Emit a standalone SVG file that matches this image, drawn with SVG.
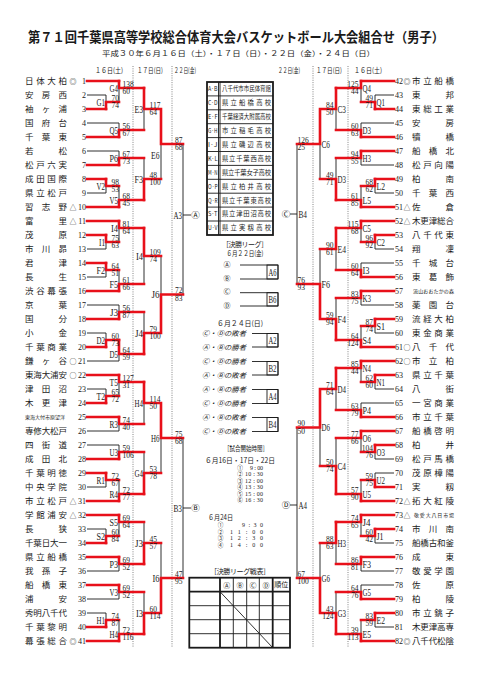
<svg xmlns="http://www.w3.org/2000/svg" width="481" height="680" viewBox="0 0 481 680">
<style>
.k{stroke:#1a1a1a;stroke-width:.9;fill:none}
.kb{stroke:#1a1a1a;stroke-width:1.8;fill:none}
.r{stroke:#e8101a;stroke-width:2.6;fill:none;stroke-linecap:square}
.d{stroke:#666;stroke-width:.8;stroke-dasharray:1 1.3;fill:none}
text{fill:#1a1a1a}
.nm{font-family:"Noto Sans CJK JP",sans-serif;font-size:8.5px}
.mk{font-family:"Noto Sans CJK JP",sans-serif;font-size:7px;text-anchor:middle}
.sm{font-family:"Noto Sans CJK JP",sans-serif;font-size:5px}
.no{font-family:"Liberation Serif",serif;font-size:8px}
.sc{font-family:"Liberation Serif",serif;font-size:7.5px}
.lb{font-family:"Liberation Serif",serif;font-size:11px}
.c{font-family:"Noto Sans CJK JP",sans-serif;font-size:7px}
.v{font-family:"Noto Sans CJK JP",sans-serif;font-size:6.3px}
.tm{font-family:"Liberation Serif",serif;font-size:6px}
.ci{font-family:"Noto Sans CJK JP",sans-serif;font-size:5.6px;text-anchor:middle}
.e{text-anchor:end}
.m{text-anchor:middle}
</style>
<rect width="481" height="680" fill="#fff"/>
<g id="title">
<text x="28" y="42" font-family="Noto Sans CJK JP,sans-serif" font-weight="bold" font-size="13.3" textLength="416" lengthAdjust="spacingAndGlyphs">第７１回千葉県高等学校総合体育大会バスケットボール大会組合せ（男子）</text>
<text x="102" y="56" class="c" font-size="8" textLength="273" lengthAdjust="spacingAndGlyphs">平成３０年６月１６日（土）・１７日（日）・２２日（金）・２４日（日）</text>
</g>
<g id="dates" class="c" font-size="6.5">
<text x="95" y="73" textLength="28" lengthAdjust="spacingAndGlyphs">１６日(土)</text>
<text x="137" y="73" textLength="26" lengthAdjust="spacingAndGlyphs">１７日(日)</text>
<text x="174" y="73" textLength="22" lengthAdjust="spacingAndGlyphs">２２日(金)</text>
<text x="278" y="73" textLength="22" lengthAdjust="spacingAndGlyphs">２２日(金)</text>
<text x="316" y="73" textLength="26" lengthAdjust="spacingAndGlyphs">１７日(日)</text>
<text x="354" y="73" textLength="28" lengthAdjust="spacingAndGlyphs">１６日(土)</text>
</g>
<g id="dividers">
<path class="d" d="M133 66V647M172 66V647M313 66V647M348 66V647"/>
</g>
<g id="teams-left">
<g id="t1"><text class="nm" x="25" y="84" textLength="42" lengthAdjust="spacing">日体大柏</text><text class="mk" x="73" y="83.5">◎</text><text class="no e" x="86" y="84">1</text></g>
<g id="t2"><text class="nm" x="25" y="98" textLength="42" lengthAdjust="spacing">安房西</text><text class="no e" x="86" y="98">2</text></g>
<g id="t3"><text class="nm" x="25" y="112" textLength="42" lengthAdjust="spacing">袖ヶ浦</text><text class="no e" x="86" y="112">3</text></g>
<g id="t4"><text class="nm" x="25" y="126" textLength="42" lengthAdjust="spacing">国府台</text><text class="no e" x="86" y="126">4</text></g>
<g id="t5"><text class="nm" x="25" y="140" textLength="42" lengthAdjust="spacing">千葉東</text><text class="no e" x="86" y="140">5</text></g>
<g id="t6"><text class="nm" x="25" y="154" textLength="42" lengthAdjust="spacing">若松</text><text class="no e" x="86" y="154">6</text></g>
<g id="t7"><text class="nm" x="25" y="168" textLength="42" lengthAdjust="spacing">松戸六実</text><text class="no e" x="86" y="168">7</text></g>
<g id="t8"><text class="nm" x="25" y="182" textLength="42" lengthAdjust="spacing">成田国際</text><text class="no e" x="86" y="182">8</text></g>
<g id="t9"><text class="nm" x="25" y="196" textLength="42" lengthAdjust="spacing">県立松戸</text><text class="no e" x="86" y="196">9</text></g>
<g id="t10"><text class="nm" x="25" y="210" textLength="42" lengthAdjust="spacing">習志野</text><text class="mk" x="73" y="209.5">△</text><text class="no e" x="86" y="210">10</text></g>
<g id="t11"><text class="nm" x="25" y="224" textLength="42" lengthAdjust="spacing">富里</text><text class="mk" x="73" y="223.5">△</text><text class="no e" x="86" y="224">11</text></g>
<g id="t12"><text class="nm" x="25" y="238" textLength="42" lengthAdjust="spacing">茂原</text><text class="no e" x="86" y="238">12</text></g>
<g id="t13"><text class="nm" x="25" y="252" textLength="42" lengthAdjust="spacing">市川昴</text><text class="no e" x="86" y="252">13</text></g>
<g id="t14"><text class="nm" x="25" y="266" textLength="42" lengthAdjust="spacing">君津</text><text class="no e" x="86" y="266">14</text></g>
<g id="t15"><text class="nm" x="25" y="280" textLength="42" lengthAdjust="spacing">長生</text><text class="no e" x="86" y="280">15</text></g>
<g id="t16"><text class="nm" x="25" y="294" textLength="42" lengthAdjust="spacing">渋谷幕張</text><text class="no e" x="86" y="294">16</text></g>
<g id="t17"><text class="nm" x="25" y="308" textLength="42" lengthAdjust="spacing">京葉</text><text class="no e" x="86" y="308">17</text></g>
<g id="t18"><text class="nm" x="25" y="322" textLength="42" lengthAdjust="spacing">国分</text><text class="no e" x="86" y="322">18</text></g>
<g id="t19"><text class="nm" x="25" y="336" textLength="42" lengthAdjust="spacing">小金</text><text class="no e" x="86" y="336">19</text></g>
<g id="t20"><text class="nm" x="25" y="350" textLength="42" lengthAdjust="spacing">千葉商業</text><text class="no e" x="86" y="350">20</text></g>
<g id="t21"><text class="nm" x="25" y="364" textLength="42" lengthAdjust="spacing">鎌ヶ谷</text><text class="mk" x="73" y="363.5">○</text><text class="no e" x="86" y="364">21</text></g>
<g id="t22"><text class="nm" x="25" y="378" textLength="42" lengthAdjust="spacing">東海大浦安</text><text class="mk" x="73" y="377.5">○</text><text class="no e" x="86" y="378">22</text></g>
<g id="t23"><text class="nm" x="25" y="392" textLength="42" lengthAdjust="spacing">津田沼</text><text class="no e" x="86" y="392">23</text></g>
<g id="t24"><text class="nm" x="25" y="406" textLength="42" lengthAdjust="spacing">木更津</text><text class="no e" x="86" y="406">24</text></g>
<g id="t25"><text class="sm" x="25" y="419" textLength="40" lengthAdjust="spacing">東海大付市原望洋</text><text class="no e" x="86" y="420">25</text></g>
<g id="t26"><text class="nm" x="25" y="434" textLength="42" lengthAdjust="spacing">専修大松戸</text><text class="no e" x="86" y="434">26</text></g>
<g id="t27"><text class="nm" x="25" y="448" textLength="42" lengthAdjust="spacing">四街道</text><text class="no e" x="86" y="448">27</text></g>
<g id="t28"><text class="nm" x="25" y="462" textLength="42" lengthAdjust="spacing">成田北</text><text class="no e" x="86" y="462">28</text></g>
<g id="t29"><text class="nm" x="25" y="476" textLength="42" lengthAdjust="spacing">千葉明徳</text><text class="no e" x="86" y="476">29</text></g>
<g id="t30"><text class="nm" x="25" y="490" textLength="42" lengthAdjust="spacing">中央学院</text><text class="no e" x="86" y="490">30</text></g>
<g id="t31"><text class="nm" x="25" y="504" textLength="42" lengthAdjust="spacing">市立松戸</text><text class="mk" x="73" y="503.5">△</text><text class="no e" x="86" y="504">31</text></g>
<g id="t32"><text class="nm" x="25" y="518" textLength="42" lengthAdjust="spacing">学館浦安</text><text class="mk" x="73" y="517.5">△</text><text class="no e" x="86" y="518">32</text></g>
<g id="t33"><text class="nm" x="25" y="532" textLength="42" lengthAdjust="spacing">長狭</text><text class="no e" x="86" y="532">33</text></g>
<g id="t34"><text class="nm" x="25" y="546" textLength="42" lengthAdjust="spacing">千葉日大一</text><text class="no e" x="86" y="546">34</text></g>
<g id="t35"><text class="nm" x="25" y="560" textLength="42" lengthAdjust="spacing">県立船橋</text><text class="no e" x="86" y="560">35</text></g>
<g id="t36"><text class="nm" x="25" y="574" textLength="42" lengthAdjust="spacing">我孫子</text><text class="no e" x="86" y="574">36</text></g>
<g id="t37"><text class="nm" x="25" y="588" textLength="42" lengthAdjust="spacing">船橋東</text><text class="no e" x="86" y="588">37</text></g>
<g id="t38"><text class="nm" x="25" y="602" textLength="42" lengthAdjust="spacing">浦安</text><text class="no e" x="86" y="602">38</text></g>
<g id="t39"><text class="nm" x="25" y="616" textLength="42" lengthAdjust="spacing">秀明八千代</text><text class="no e" x="86" y="616">39</text></g>
<g id="t40"><text class="nm" x="25" y="630" textLength="42" lengthAdjust="spacing">千葉黎明</text><text class="no e" x="86" y="630">40</text></g>
<g id="t41"><text class="nm" x="25" y="644" textLength="42" lengthAdjust="spacing">幕張総合</text><text class="mk" x="73" y="643.5">◎</text><text class="no e" x="86" y="644">41</text></g>
</g>
<g id="teams-right">
<g id="t42"><text class="no" x="395" y="84">42</text><text class="mk" x="407" y="83.5">◎</text><text class="nm" x="412" y="84" textLength="42" lengthAdjust="spacing">市立船橋</text></g>
<g id="t43"><text class="no" x="395" y="98">43</text><text class="nm" x="412" y="98" textLength="42" lengthAdjust="spacing">東邦</text></g>
<g id="t44"><text class="no" x="395" y="112">44</text><text class="nm" x="412" y="112" textLength="42" lengthAdjust="spacing">東総工業</text></g>
<g id="t45"><text class="no" x="395" y="126">45</text><text class="nm" x="412" y="126" textLength="42" lengthAdjust="spacing">安房</text></g>
<g id="t46"><text class="no" x="395" y="140">46</text><text class="nm" x="412" y="140" textLength="42" lengthAdjust="spacing">犢橋</text></g>
<g id="t47"><text class="no" x="395" y="154">47</text><text class="nm" x="412" y="154" textLength="42" lengthAdjust="spacing">船橋北</text></g>
<g id="t48"><text class="no" x="395" y="168">48</text><text class="nm" x="412" y="168" textLength="42" lengthAdjust="spacing">松戸向陽</text></g>
<g id="t49"><text class="no" x="395" y="182">49</text><text class="nm" x="412" y="182" textLength="42" lengthAdjust="spacing">柏南</text></g>
<g id="t50"><text class="no" x="395" y="196">50</text><text class="nm" x="412" y="196" textLength="42" lengthAdjust="spacing">千葉西</text></g>
<g id="t51"><text class="no" x="395" y="210">51</text><text class="mk" x="407" y="209.5">△</text><text class="nm" x="412" y="210" textLength="42" lengthAdjust="spacing">佐倉</text></g>
<g id="t52"><text class="no" x="395" y="224">52</text><text class="mk" x="407" y="223.5">△</text><text class="nm" x="412" y="224" textLength="42" lengthAdjust="spacing">木更津総合</text></g>
<g id="t53"><text class="no" x="395" y="238">53</text><text class="nm" x="412" y="238" textLength="42" lengthAdjust="spacing">八千代東</text></g>
<g id="t54"><text class="no" x="395" y="252">54</text><text class="nm" x="412" y="252" textLength="42" lengthAdjust="spacing">翔凜</text></g>
<g id="t55"><text class="no" x="395" y="266">55</text><text class="nm" x="412" y="266" textLength="42" lengthAdjust="spacing">千城台</text></g>
<g id="t56"><text class="no" x="395" y="280">56</text><text class="nm" x="412" y="280" textLength="42" lengthAdjust="spacing">東葛飾</text></g>
<g id="t57"><text class="no" x="395" y="294">57</text><text class="sm" x="413" y="293" textLength="41" lengthAdjust="spacing">流山おおたかの森</text></g>
<g id="t58"><text class="no" x="395" y="308">58</text><text class="nm" x="412" y="308" textLength="42" lengthAdjust="spacing">薬園台</text></g>
<g id="t59"><text class="no" x="395" y="322">59</text><text class="nm" x="412" y="322" textLength="42" lengthAdjust="spacing">流経大柏</text></g>
<g id="t60"><text class="no" x="395" y="336">60</text><text class="nm" x="412" y="336" textLength="42" lengthAdjust="spacing">東金商業</text></g>
<g id="t61"><text class="no" x="395" y="350">61</text><text class="mk" x="407" y="349.5">○</text><text class="nm" x="412" y="350" textLength="42" lengthAdjust="spacing">八千代</text></g>
<g id="t62"><text class="no" x="395" y="364">62</text><text class="mk" x="407" y="363.5">○</text><text class="nm" x="412" y="364" textLength="42" lengthAdjust="spacing">市立柏</text></g>
<g id="t63"><text class="no" x="395" y="378">63</text><text class="nm" x="412" y="378" textLength="42" lengthAdjust="spacing">県立千葉</text></g>
<g id="t64"><text class="no" x="395" y="392">64</text><text class="nm" x="412" y="392" textLength="42" lengthAdjust="spacing">八街</text></g>
<g id="t65"><text class="no" x="395" y="406">65</text><text class="nm" x="412" y="406" textLength="42" lengthAdjust="spacing">一宮商業</text></g>
<g id="t66"><text class="no" x="395" y="420">66</text><text class="nm" x="412" y="420" textLength="42" lengthAdjust="spacing">市立千葉</text></g>
<g id="t67"><text class="no" x="395" y="434">67</text><text class="nm" x="412" y="434" textLength="42" lengthAdjust="spacing">船橋啓明</text></g>
<g id="t68"><text class="no" x="395" y="448">68</text><text class="nm" x="412" y="448" textLength="42" lengthAdjust="spacing">柏井</text></g>
<g id="t69"><text class="no" x="395" y="462">69</text><text class="nm" x="412" y="462" textLength="42" lengthAdjust="spacing">松戸馬橋</text></g>
<g id="t70"><text class="no" x="395" y="476">70</text><text class="nm" x="412" y="476" textLength="42" lengthAdjust="spacing">茂原樟陽</text></g>
<g id="t71"><text class="no" x="395" y="490">71</text><text class="nm" x="412" y="490" textLength="42" lengthAdjust="spacing">実籾</text></g>
<g id="t72"><text class="no" x="395" y="504">72</text><text class="mk" x="407" y="503.5">△</text><text class="nm" x="412" y="504" textLength="42" lengthAdjust="spacing">拓大紅陵</text></g>
<g id="t73"><text class="no" x="395" y="518">73</text><text class="mk" x="407" y="517.5">△</text><text class="sm" x="414" y="517" textLength="40" lengthAdjust="spacing">敬愛大八日市場</text></g>
<g id="t74"><text class="no" x="395" y="532">74</text><text class="nm" x="412" y="532" textLength="42" lengthAdjust="spacing">市川南</text></g>
<g id="t75"><text class="no" x="395" y="546">75</text><text class="nm" x="412" y="546" textLength="42" lengthAdjust="spacing">船橋古和釜</text></g>
<g id="t76"><text class="no" x="395" y="560">76</text><text class="nm" x="412" y="560" textLength="42" lengthAdjust="spacing">成東</text></g>
<g id="t77"><text class="no" x="395" y="574">77</text><text class="nm" x="412" y="574" textLength="42" lengthAdjust="spacing">敬愛学園</text></g>
<g id="t78"><text class="no" x="395" y="588">78</text><text class="nm" x="412" y="588" textLength="42" lengthAdjust="spacing">佐原</text></g>
<g id="t79"><text class="no" x="395" y="602">79</text><text class="nm" x="412" y="602" textLength="42" lengthAdjust="spacing">柏陵</text></g>
<g id="t80"><text class="no" x="395" y="616">80</text><text class="nm" x="412" y="616" textLength="42" lengthAdjust="spacing">市立銚子</text></g>
<g id="t81"><text class="no" x="395" y="630">81</text><text class="nm" x="412" y="630" textLength="42" lengthAdjust="spacing">木更津高専</text></g>
<g id="t82"><text class="no" x="395" y="644">82</text><text class="mk" x="407" y="643.5">◎</text><text class="nm" x="412" y="644" textLength="42" lengthAdjust="spacing">八千代松陰</text></g>
</g>
<g id="connectors">
<path class="k" d="M87 95H106M87 123H119M87 151H119M87 193H106M87 249H106M87 277H106M87 305H119M87 333H106M87 361H119M87 389H106M87 431H119M87 445H119M87 487H106M87 529H106M87 571H119M87 599H119M87 613H106"/>
<path class="k" d="M106 95V109M106 179V193M106 235V249M106 263V277M106 333V347M106 389V403M106 473V487M106 529V543M106 613V627M119 81V102M119 123V137M119 151V165M119 186V207M119 221V242M119 270V291M119 305V319M119 340V361M119 375V396M119 417V431M119 445V459M119 480V501M119 515V536M119 557V571M119 585V599M119 620V641M144 88V130M144 158V200M144 228V284M144 312V354M144 382V424M144 452V494M144 522V564M144 592V634M161 109V179M161 256V333M161 403V473M161 543V613M183 144V294.5M183 438V578"/>
<path class="k" d="M394 95H375M394 123H361M394 165H361M394 193H375M394 249H375M394 263H361M394 305H361M394 333H375M394 389H375M394 403H361M394 459H375M394 473H375M394 543H375M394 571H361M394 585H361M394 627H375"/>
<path class="k" d="M375 95V109M375 179V193M375 235V249M375 319V333M375 375V389M375 445V459M375 473V487M375 529V543M375 613V627M361 81V102M361 123V137M361 151V165M361 186V207M361 221V242M361 263V277M361 291V305M361 326V347M361 361V382M361 403V417M361 431V452M361 480V501M361 515V536M361 557V571M361 585V599M361 620V641M336 88V130M336 158V200M336 228V270M336 298V340M336 368V410M336 438V494M336 522V564M336 592V634M320 109V179M320 249V319M320 389V466M320 543V613M297 144V284M297 427.5V578"/>
<path class="k" d="M183 215H191M183 508H191M290 214H297M290 505H297"/>
<path class="r" d="M87 81H119M87 109H106M87 137H119M87 165H119M87 179H106M87 207H119M87 221H119M87 235H106M87 263H106M87 291H119M87 319H119M87 347H106M87 375H119M87 403H106M87 417H119M87 459H119M87 473H106M87 501H119M87 515H119M87 543H106M87 557H119M87 585H119M87 627H106M87 641H119"/>
<path class="r" d="M106 109V102H119M106 179V186H119M106 235V242H119M106 263V270H119M106 347V340H119M106 403V396H119M106 473V480H119M106 543V536H119M106 627V620H119"/>
<path class="r" d="M119 81V88H144M119 137V130H144M119 165V158H144M119 207V200H144M119 221V228H144M119 291V284H144M119 319V312H144M119 340V354H144M119 375V382H144M119 417V424H144M119 459V452H144M119 501V494H144M119 515V522H144M119 557V564H144M119 585V592H144M119 641V634H144"/>
<path class="r" d="M144 88V109H161M144 200V179H161M144 228V256H161M144 354V333H161M144 382V403H161M144 494V473H161M144 564V543H161M144 634V613H161M161 109V144H183M161 333V294.5H183M161 403V438H183M161 613V578H183"/>
<path class="r" d="M394 81H361M394 109H375M394 137H361M394 151H361M394 179H375M394 207H361M394 221H361M394 235H375M394 277H361M394 291H361M394 319H375M394 347H361M394 361H361M394 375H375M394 417H361M394 431H361M394 445H375M394 487H375M394 501H361M394 515H361M394 529H375M394 557H361M394 599H361M394 613H375M394 641H361"/>
<path class="r" d="M375 109V102H361M375 179V186H361M375 235V242H361M375 319V326H361M375 375V382H361M375 445V452H361M375 487V480H361M375 529V536H361M375 613V620H361"/>
<path class="r" d="M361 81V88H336M361 137V130H336M361 151V158H336M361 207V200H336M361 221V228H336M361 277V270H336M361 291V298H336M361 347V340H336M361 361V368H336M361 417V410H336M361 431V438H336M361 501V494H336M361 515V522H336M361 557V564H336M361 599V592H336M361 641V634H336"/>
<path class="r" d="M336 88V109H320M336 200V179H320M336 228V249H320M336 340V319H320M336 368V389H320M336 494V466H320M336 522V543H320M336 634V613H320M320 109V144H297M320 319V284H297M320 389V427.5H297M320 613V578H297"/>
</g>
<g id="matches-left">
<g id="mG1"><text class="lb e" x="105" y="105.8" textLength="8.5" lengthAdjust="spacingAndGlyphs">G1</text><text class="sc" x="111.5" y="100.6">70</text><text class="sc" x="111.5" y="108.4">74</text></g>
<g id="mV2"><text class="lb e" x="105" y="189.8" textLength="8.5" lengthAdjust="spacingAndGlyphs">V2</text><text class="sc" x="111.5" y="184.6">98</text><text class="sc" x="111.5" y="192.4">53</text></g>
<g id="mI1"><text class="lb e" x="105" y="245.8" textLength="6" lengthAdjust="spacingAndGlyphs">I1</text><text class="sc" x="111.5" y="240.6">75</text><text class="sc" x="111.5" y="248.4">63</text></g>
<g id="mF2"><text class="lb e" x="105" y="273.8" textLength="8.5" lengthAdjust="spacingAndGlyphs">F2</text><text class="sc" x="111.5" y="268.6">64</text><text class="sc" x="111.5" y="276.4">51</text></g>
<g id="mD2"><text class="lb e" x="105" y="343.8" textLength="8.5" lengthAdjust="spacingAndGlyphs">D2</text><text class="sc" x="111.5" y="338.6">60</text><text class="sc" x="111.5" y="346.4">73</text></g>
<g id="mT2"><text class="lb e" x="105" y="399.8" textLength="8.5" lengthAdjust="spacingAndGlyphs">T2</text><text class="sc" x="111.5" y="394.6">65</text><text class="sc" x="111.5" y="402.4">72</text></g>
<g id="mR1"><text class="lb e" x="105" y="483.8" textLength="8.5" lengthAdjust="spacingAndGlyphs">R1</text><text class="sc" x="111.5" y="478.6">72</text><text class="sc" x="111.5" y="486.4">67</text></g>
<g id="mS2"><text class="lb e" x="105" y="539.8" textLength="8.5" lengthAdjust="spacingAndGlyphs">S2</text><text class="sc" x="111.5" y="534.6">60</text><text class="sc" x="111.5" y="542.4">84</text></g>
<g id="mH1"><text class="lb e" x="105" y="623.8" textLength="8.5" lengthAdjust="spacingAndGlyphs">H1</text><text class="sc" x="111.5" y="618.6">74</text><text class="sc" x="111.5" y="626.4">87</text></g>
<g id="mG4a"><text class="lb e" x="118" y="91.8" textLength="8.5" lengthAdjust="spacingAndGlyphs">G4</text><text class="sc" x="122.5" y="86.6">138</text><text class="sc" x="122.5" y="94.4">60</text></g>
<g id="mQ5"><text class="lb e" x="118" y="133.8" textLength="8.5" lengthAdjust="spacingAndGlyphs">Q5</text><text class="sc" x="122.5" y="128.6">56</text><text class="sc" x="122.5" y="136.4">67</text></g>
<g id="mP6"><text class="lb e" x="118" y="161.8" textLength="8.5" lengthAdjust="spacingAndGlyphs">P6</text><text class="sc" x="122.5" y="156.6">67</text><text class="sc" x="122.5" y="164.4">73</text></g>
<g id="mV5"><text class="lb e" x="118" y="203.8" textLength="8.5" lengthAdjust="spacingAndGlyphs">V5</text><text class="sc" x="122.5" y="198.6">68</text><text class="sc" x="122.5" y="206.4">45</text></g>
<g id="mI4a"><text class="lb e" x="118" y="231.8" textLength="7" lengthAdjust="spacingAndGlyphs">I4</text><text class="sc" x="122.5" y="226.6">81</text><text class="sc" x="122.5" y="234.4">64</text></g>
<g id="mF5"><text class="lb e" x="118" y="287.8" textLength="8.5" lengthAdjust="spacingAndGlyphs">F5</text><text class="sc" x="122.5" y="282.6">61</text><text class="sc" x="122.5" y="290.4">66</text></g>
<g id="mJ3a"><text class="lb e" x="118" y="315.8" textLength="8" lengthAdjust="spacingAndGlyphs">J3</text><text class="sc" x="122.5" y="310.6">56</text><text class="sc" x="122.5" y="318.4">87</text></g>
<g id="mD5"><text class="lb e" x="118" y="357.8" textLength="8.5" lengthAdjust="spacingAndGlyphs">D5</text><text class="sc" x="122.5" y="352.6">64</text><text class="sc" x="122.5" y="360.4">59</text></g>
<g id="mT5"><text class="lb e" x="118" y="385.8" textLength="8.5" lengthAdjust="spacingAndGlyphs">T5</text><text class="sc" x="122.5" y="380.6">127</text><text class="sc" x="122.5" y="388.4">31</text></g>
<g id="mR3"><text class="lb e" x="118" y="427.8" textLength="8.5" lengthAdjust="spacingAndGlyphs">R3</text><text class="sc" x="122.5" y="422.6">74</text><text class="sc" x="122.5" y="430.4">40</text></g>
<g id="mU3"><text class="lb e" x="118" y="455.8" textLength="8.5" lengthAdjust="spacingAndGlyphs">U3</text><text class="sc" x="122.5" y="450.6">59</text><text class="sc" x="122.5" y="458.4">106</text></g>
<g id="mR4"><text class="lb e" x="118" y="497.8" textLength="8.5" lengthAdjust="spacingAndGlyphs">R4</text><text class="sc" x="122.5" y="492.6">72</text><text class="sc" x="122.5" y="500.4">77</text></g>
<g id="mS5"><text class="lb e" x="118" y="525.8" textLength="8.5" lengthAdjust="spacingAndGlyphs">S5</text><text class="sc" x="122.5" y="520.6">69</text><text class="sc" x="122.5" y="528.4">64</text></g>
<g id="mP3"><text class="lb e" x="118" y="567.8" textLength="8.5" lengthAdjust="spacingAndGlyphs">P3</text><text class="sc" x="122.5" y="562.6">69</text><text class="sc" x="122.5" y="570.4">52</text></g>
<g id="mV3"><text class="lb e" x="118" y="595.8" textLength="8.5" lengthAdjust="spacingAndGlyphs">V3</text><text class="sc" x="122.5" y="590.6">69</text><text class="sc" x="122.5" y="598.4">52</text></g>
<g id="mH4a"><text class="lb e" x="118" y="637.8" textLength="8.5" lengthAdjust="spacingAndGlyphs">H4</text><text class="sc" x="122.5" y="632.6">72</text><text class="sc" x="122.5" y="640.4">116</text></g>
<g id="mE3"><text class="lb e" x="143" y="112.8" textLength="8.5" lengthAdjust="spacingAndGlyphs">E3</text><text class="sc" x="149.5" y="107.6">117</text><text class="sc" x="149.5" y="115.4">64</text></g>
<g id="mF3"><text class="lb e" x="143" y="182.8" textLength="8.5" lengthAdjust="spacingAndGlyphs">F3</text><text class="sc" x="149.5" y="177.6">48</text><text class="sc" x="149.5" y="185.4">100</text></g>
<g id="mI4b"><text class="lb e" x="143" y="259.8" textLength="7" lengthAdjust="spacingAndGlyphs">I4</text><text class="sc" x="149.5" y="254.6">109</text><text class="sc" x="149.5" y="262.4">74</text></g>
<g id="mJ4"><text class="lb e" x="143" y="336.8" textLength="8" lengthAdjust="spacingAndGlyphs">J4</text><text class="sc" x="149.5" y="331.6">79</text><text class="sc" x="149.5" y="339.4">100</text></g>
<g id="mH4b"><text class="lb e" x="143" y="406.8" textLength="8.5" lengthAdjust="spacingAndGlyphs">H4</text><text class="sc" x="149.5" y="401.6">114</text><text class="sc" x="149.5" y="409.4">50</text></g>
<g id="mG4b"><text class="lb e" x="143" y="476.8" textLength="8.5" lengthAdjust="spacingAndGlyphs">G4</text><text class="sc" x="149.5" y="471.6">53</text><text class="sc" x="149.5" y="479.4">78</text></g>
<g id="mJ3b"><text class="lb e" x="143" y="546.8" textLength="8" lengthAdjust="spacingAndGlyphs">J3</text><text class="sc" x="149.5" y="541.6">45</text><text class="sc" x="149.5" y="549.4">57</text></g>
<g id="mI3"><text class="lb e" x="143" y="616.8" textLength="7" lengthAdjust="spacingAndGlyphs">I3</text><text class="sc" x="149.5" y="611.6">60</text><text class="sc" x="149.5" y="619.4">114</text></g>
<g id="mE6"><text class="lb e" x="159.5" y="158.8" textLength="8.5" lengthAdjust="spacingAndGlyphs">E6</text><text class="sc e" x="182.5" y="142.6">87</text><text class="sc e" x="182.5" y="150.4">68</text></g>
<g id="mJ6"><text class="lb e" x="159.5" y="298.3" textLength="8" lengthAdjust="spacingAndGlyphs">J6</text><text class="sc e" x="182.5" y="293.1">72</text><text class="sc e" x="182.5" y="300.9">83</text></g>
<g id="mH6"><text class="lb e" x="159.5" y="441.8" textLength="8.5" lengthAdjust="spacingAndGlyphs">H6</text><text class="sc e" x="182.5" y="436.6">75</text><text class="sc e" x="182.5" y="444.4">68</text></g>
<g id="mI6"><text class="lb e" x="159.5" y="581.8" textLength="7" lengthAdjust="spacingAndGlyphs">I6</text><text class="sc e" x="182.5" y="576.6">47</text><text class="sc e" x="182.5" y="584.4">95</text></g>
<g id="mA3"><text class="lb e" x="182" y="218.8" textLength="8.5" lengthAdjust="spacingAndGlyphs">A3</text><text class="nm m" x="195.5" y="218.2">Ⓐ</text></g>
<g id="mB3"><text class="lb e" x="182" y="511.8" textLength="8.5" lengthAdjust="spacingAndGlyphs">B3</text><text class="nm m" x="195.5" y="511.2">Ⓑ</text></g>
</g>
<g id="matches-right">
<g id="mQ1"><text class="lb" x="376.5" y="105.8" textLength="8.5" lengthAdjust="spacingAndGlyphs">Q1</text><text class="sc e" x="373" y="100.6">49</text><text class="sc e" x="373" y="108.4">71</text></g>
<g id="mL2"><text class="lb" x="376.5" y="189.8" textLength="8.5" lengthAdjust="spacingAndGlyphs">L2</text><text class="sc e" x="373" y="184.6">68</text><text class="sc e" x="373" y="192.4">62</text></g>
<g id="mC2"><text class="lb" x="376.5" y="245.8" textLength="8.5" lengthAdjust="spacingAndGlyphs">C2</text><text class="sc e" x="373" y="240.6">96</text><text class="sc e" x="373" y="248.4">92</text></g>
<g id="mS1"><text class="lb" x="376.5" y="329.8" textLength="8.5" lengthAdjust="spacingAndGlyphs">S1</text><text class="sc e" x="373" y="324.6">87</text><text class="sc e" x="373" y="332.4">74</text></g>
<g id="mN1"><text class="lb" x="376.5" y="385.8" textLength="8.5" lengthAdjust="spacingAndGlyphs">N1</text><text class="sc e" x="373" y="380.6">62</text><text class="sc e" x="373" y="388.4">60</text></g>
<g id="mO3"><text class="lb" x="376.5" y="455.8" textLength="8.5" lengthAdjust="spacingAndGlyphs">O3</text><text class="sc e" x="373" y="450.6">104</text><text class="sc e" x="373" y="458.4">76</text></g>
<g id="mU2"><text class="lb" x="376.5" y="483.8" textLength="8.5" lengthAdjust="spacingAndGlyphs">U2</text><text class="sc e" x="373" y="478.6">59</text><text class="sc e" x="373" y="486.4">75</text></g>
<g id="mJ1"><text class="lb" x="376.5" y="539.8" textLength="7" lengthAdjust="spacingAndGlyphs">J1</text><text class="sc e" x="373" y="534.6">60</text><text class="sc e" x="373" y="542.4">42</text></g>
<g id="mE2"><text class="lb" x="376.5" y="623.8" textLength="8.5" lengthAdjust="spacingAndGlyphs">E2</text><text class="sc e" x="373" y="618.6">83</text><text class="sc e" x="373" y="626.4">59</text></g>
<g id="mQ4"><text class="lb" x="362.5" y="91.8" textLength="8.5" lengthAdjust="spacingAndGlyphs">Q4</text><text class="sc e" x="358.5" y="86.6">125</text><text class="sc e" x="358.5" y="94.4">44</text></g>
<g id="mD3a"><text class="lb" x="362.5" y="133.8" textLength="8.5" lengthAdjust="spacingAndGlyphs">D3</text><text class="sc e" x="358.5" y="128.6">60</text><text class="sc e" x="358.5" y="136.4">63</text></g>
<g id="mH3a"><text class="lb" x="362.5" y="161.8" textLength="8.5" lengthAdjust="spacingAndGlyphs">H3</text><text class="sc e" x="358.5" y="156.6">94</text><text class="sc e" x="358.5" y="164.4">55</text></g>
<g id="mL5"><text class="lb" x="362.5" y="203.8" textLength="8.5" lengthAdjust="spacingAndGlyphs">L5</text><text class="sc e" x="358.5" y="198.6">61</text><text class="sc e" x="358.5" y="206.4">85</text></g>
<g id="mC5"><text class="lb" x="362.5" y="231.8" textLength="8.5" lengthAdjust="spacingAndGlyphs">C5</text><text class="sc e" x="358.5" y="226.6">115</text><text class="sc e" x="358.5" y="234.4">68</text></g>
<g id="mI3r"><text class="lb" x="362.5" y="273.8" textLength="7" lengthAdjust="spacingAndGlyphs">I3</text><text class="sc e" x="358.5" y="268.6">60</text><text class="sc e" x="358.5" y="276.4">64</text></g>
<g id="mK3"><text class="lb" x="362.5" y="301.8" textLength="8.5" lengthAdjust="spacingAndGlyphs">K3</text><text class="sc e" x="358.5" y="296.6">83</text><text class="sc e" x="358.5" y="304.4">75</text></g>
<g id="mS4"><text class="lb" x="362.5" y="343.8" textLength="8.5" lengthAdjust="spacingAndGlyphs">S4</text><text class="sc e" x="358.5" y="338.6">64</text><text class="sc e" x="358.5" y="346.4">124</text></g>
<g id="mN4"><text class="lb" x="362.5" y="371.8" textLength="8.5" lengthAdjust="spacingAndGlyphs">N4</text><text class="sc e" x="358.5" y="366.6">85</text><text class="sc e" x="358.5" y="374.4">44</text></g>
<g id="mP4"><text class="lb" x="362.5" y="413.8" textLength="8.5" lengthAdjust="spacingAndGlyphs">P4</text><text class="sc e" x="358.5" y="408.6">63</text><text class="sc e" x="358.5" y="416.4">79</text></g>
<g id="mO6"><text class="lb" x="362.5" y="441.8" textLength="8.5" lengthAdjust="spacingAndGlyphs">O6</text><text class="sc e" x="358.5" y="436.6">77</text><text class="sc e" x="358.5" y="444.4">66</text></g>
<g id="mU5"><text class="lb" x="362.5" y="497.8" textLength="8.5" lengthAdjust="spacingAndGlyphs">U5</text><text class="sc e" x="358.5" y="492.6">57</text><text class="sc e" x="358.5" y="500.4">90</text></g>
<g id="mJ4r"><text class="lb" x="362.5" y="525.8" textLength="8" lengthAdjust="spacingAndGlyphs">J4</text><text class="sc e" x="358.5" y="520.6">74</text><text class="sc e" x="358.5" y="528.4">65</text></g>
<g id="mF3r"><text class="lb" x="362.5" y="567.8" textLength="8.5" lengthAdjust="spacingAndGlyphs">F3</text><text class="sc e" x="358.5" y="562.6">86</text><text class="sc e" x="358.5" y="570.4">81</text></g>
<g id="mG5"><text class="lb" x="362.5" y="595.8" textLength="8.5" lengthAdjust="spacingAndGlyphs">G5</text><text class="sc e" x="358.5" y="590.6">64</text><text class="sc e" x="358.5" y="598.4">76</text></g>
<g id="mE5"><text class="lb" x="362.5" y="637.8" textLength="8.5" lengthAdjust="spacingAndGlyphs">E5</text><text class="sc e" x="358.5" y="632.6">39</text><text class="sc e" x="358.5" y="640.4">113</text></g>
<g id="mC3"><text class="lb" x="337.5" y="112.8" textLength="8.5" lengthAdjust="spacingAndGlyphs">C3</text><text class="sc e" x="333.5" y="107.6">84</text><text class="sc e" x="333.5" y="115.4">50</text></g>
<g id="mD3b"><text class="lb" x="337.5" y="182.8" textLength="8.5" lengthAdjust="spacingAndGlyphs">D3</text><text class="sc e" x="333.5" y="177.6">49</text><text class="sc e" x="333.5" y="185.4">71</text></g>
<g id="mE4"><text class="lb" x="337.5" y="252.8" textLength="8.5" lengthAdjust="spacingAndGlyphs">E4</text><text class="sc e" x="333.5" y="247.6">90</text><text class="sc e" x="333.5" y="255.4">61</text></g>
<g id="mF4"><text class="lb" x="337.5" y="322.8" textLength="8.5" lengthAdjust="spacingAndGlyphs">F4</text><text class="sc e" x="333.5" y="317.6">59</text><text class="sc e" x="333.5" y="325.4">94</text></g>
<g id="mD4"><text class="lb" x="337.5" y="392.8" textLength="8.5" lengthAdjust="spacingAndGlyphs">D4</text><text class="sc e" x="333.5" y="387.6">71</text><text class="sc e" x="333.5" y="395.4">64</text></g>
<g id="mC4"><text class="lb" x="337.5" y="469.8" textLength="8.5" lengthAdjust="spacingAndGlyphs">C4</text><text class="sc e" x="333.5" y="464.6">50</text><text class="sc e" x="333.5" y="472.4">74</text></g>
<g id="mH3b"><text class="lb" x="337.5" y="546.8" textLength="8.5" lengthAdjust="spacingAndGlyphs">H3</text><text class="sc e" x="333.5" y="541.6">88</text><text class="sc e" x="333.5" y="549.4">63</text></g>
<g id="mG3"><text class="lb" x="337.5" y="616.8" textLength="8.5" lengthAdjust="spacingAndGlyphs">G3</text><text class="sc e" x="333.5" y="611.6">43</text><text class="sc e" x="333.5" y="619.4">124</text></g>
<g id="mC6"><text class="lb" x="321.5" y="147.8" textLength="8.5" lengthAdjust="spacingAndGlyphs">C6</text><text class="sc" x="297.5" y="142.6">126</text><text class="sc" x="297.5" y="150.4">25</text></g>
<g id="mF6"><text class="lb" x="321.5" y="287.8" textLength="8.5" lengthAdjust="spacingAndGlyphs">F6</text><text class="sc" x="297.5" y="282.6">76</text><text class="sc" x="297.5" y="290.4">93</text></g>
<g id="mD6"><text class="lb" x="321.5" y="431.3" textLength="8.5" lengthAdjust="spacingAndGlyphs">D6</text><text class="sc" x="297.5" y="426.1">90</text><text class="sc" x="297.5" y="433.9">50</text></g>
<g id="mG6"><text class="lb" x="321.5" y="581.8" textLength="8.5" lengthAdjust="spacingAndGlyphs">G6</text><text class="sc" x="297.5" y="576.6">67</text><text class="sc" x="297.5" y="584.4">100</text></g>
<g id="mB4"><text class="lb" x="298.5" y="217.8" textLength="8.5" lengthAdjust="spacingAndGlyphs">B4</text><text class="nm m" x="286" y="217.2">Ⓒ</text></g>
<g id="mA4"><text class="lb" x="298.5" y="508.8" textLength="8.5" lengthAdjust="spacingAndGlyphs">A4</text><text class="nm m" x="286" y="508.2">Ⓓ</text></g>
</g>
<g id="venues">
<rect class="kb" x="207" y="82" width="66" height="153" stroke-width="1.2"/>
<path class="k" d="M218.5 82V235M220 82V235M207 95.9H273M207 109.8H273M207 123.7H273M207 137.6H273M207 151.5H273M207 165.4H273M207 179.3H273M207 193.2H273M207 207.1H273M207 221H273"/>
<g class="v">
<text x="208" y="91.3" textLength="9.5" lengthAdjust="spacingAndGlyphs">A·B</text><text x="222" y="91.3" textLength="49" lengthAdjust="spacingAndGlyphs">八千代市市民体育館</text>
<text x="208" y="105.2" textLength="9.5" lengthAdjust="spacingAndGlyphs">C·D</text><text x="222" y="105.2" textLength="49" lengthAdjust="spacing">県立船橋高校</text>
<text x="208" y="119.1" textLength="9.5" lengthAdjust="spacingAndGlyphs">E·F</text><text x="222" y="119.1" textLength="49" lengthAdjust="spacingAndGlyphs">千葉経済大附属高校</text>
<text x="208" y="133" textLength="9.5" lengthAdjust="spacingAndGlyphs">G·H</text><text x="222" y="133" textLength="49" lengthAdjust="spacing">市立稲毛高校</text>
<text x="208" y="146.9" textLength="9.5" lengthAdjust="spacingAndGlyphs">I·J</text><text x="222" y="146.9" textLength="49" lengthAdjust="spacing">県立磯辺高校</text>
<text x="208" y="160.8" textLength="9.5" lengthAdjust="spacingAndGlyphs">K·L</text><text x="222" y="160.8" textLength="49" lengthAdjust="spacing">県立千葉西高校</text>
<text x="208" y="174.7" textLength="9.5" lengthAdjust="spacingAndGlyphs">M·N</text><text x="222" y="174.7" textLength="49" lengthAdjust="spacing">県立千葉女子高校</text>
<text x="208" y="188.6" textLength="9.5" lengthAdjust="spacingAndGlyphs">O·P</text><text x="222" y="188.6" textLength="49" lengthAdjust="spacing">県立柏井高校</text>
<text x="208" y="202.5" textLength="9.5" lengthAdjust="spacingAndGlyphs">Q·R</text><text x="222" y="202.5" textLength="49" lengthAdjust="spacing">県立千葉東高校</text>
<text x="208" y="216.4" textLength="9.5" lengthAdjust="spacingAndGlyphs">S·T</text><text x="222" y="216.4" textLength="49" lengthAdjust="spacing">県立津田沼高校</text>
<text x="208" y="230.3" textLength="9.5" lengthAdjust="spacingAndGlyphs">U·V</text><text x="222" y="230.3" textLength="49" lengthAdjust="spacing">県立実籾高校</text>
</g>
</g>
<g id="final-league">
<text class="c m" x="245" y="247" font-size="6.5" textLength="46" lengthAdjust="spacing">［決勝リーグ］</text>
<text class="c m" x="245" y="255.5" font-size="6.5" textLength="37" lengthAdjust="spacingAndGlyphs">６月２２日(金)</text>
<text class="c m" x="227" y="266.5">Ⓐ</text><text class="c m" x="227" y="280.5">Ⓑ</text>
<text class="c m" x="227" y="293.5">Ⓒ</text><text class="c m" x="227" y="307.5">Ⓓ</text>
<path class="k" d="M240 265H278V279H240M240 292.7H278V306H240"/>
<rect class="k" x="267" y="265" width="11" height="14"/><rect class="k" x="267" y="292.7" width="11" height="13.3"/>
<text class="lb m" x="272.5" y="275.8" textLength="8" lengthAdjust="spacingAndGlyphs">A6</text>
<text class="lb m" x="272.5" y="303.2" textLength="8" lengthAdjust="spacingAndGlyphs">B6</text>
<text class="c m" x="240" y="326" textLength="46" lengthAdjust="spacingAndGlyphs">６月２４日(日)</text>
<g class="c" font-style="italic">
<text class="e" x="246" y="336" textLength="44" lengthAdjust="spacingAndGlyphs">Ⓒ・Ⓓの敗者</text>
<text class="e" x="246" y="349.5" textLength="44" lengthAdjust="spacingAndGlyphs">Ⓐ・Ⓑの勝者</text>
<text class="e" x="246" y="364" textLength="44" lengthAdjust="spacingAndGlyphs">Ⓒ・Ⓓの勝者</text>
<text class="e" x="246" y="377.5" textLength="44" lengthAdjust="spacingAndGlyphs">Ⓐ・Ⓑの敗者</text>
<text class="e" x="246" y="392" textLength="44" lengthAdjust="spacingAndGlyphs">Ⓐ・Ⓑの勝者</text>
<text class="e" x="246" y="405.5" textLength="44" lengthAdjust="spacingAndGlyphs">Ⓒ・Ⓓの勝者</text>
<text class="e" x="246" y="420" textLength="44" lengthAdjust="spacingAndGlyphs">Ⓐ・Ⓑの敗者</text>
<text class="e" x="246" y="433.5" textLength="44" lengthAdjust="spacingAndGlyphs">Ⓒ・Ⓓの敗者</text>
</g>
<path class="k" d="M252 333.5H278V347H252M252 361.5H278V375H252M252 389.5H278V403.5H252M252 417.5H278V431.5H252"/>
<rect class="k" x="267" y="333.5" width="11" height="13.5"/><rect class="k" x="267" y="361.5" width="11" height="13.5"/><rect class="k" x="267" y="389.5" width="11" height="14"/><rect class="k" x="267" y="417.5" width="11" height="14"/>
<text class="lb m" x="272.5" y="344" textLength="8" lengthAdjust="spacingAndGlyphs">A2</text>
<text class="lb m" x="272.5" y="372" textLength="8" lengthAdjust="spacingAndGlyphs">B2</text>
<text class="lb m" x="272.5" y="400.3" textLength="8" lengthAdjust="spacingAndGlyphs">A4</text>
<text class="lb m" x="272.5" y="428.3" textLength="8" lengthAdjust="spacingAndGlyphs">B4</text>
</g>
<g id="times">
<text class="c m" x="246" y="450.5" font-size="6.5" textLength="44" lengthAdjust="spacingAndGlyphs">［試合開始時間］</text>
<text class="c m" x="240" y="463" font-size="6" textLength="70" lengthAdjust="spacingAndGlyphs">６月16日・17日・22日</text>
<text class="ci" x="240" y="469.5">①</text><text class="tm" x="250" y="469.5" textLength="13" lengthAdjust="spacing">9 : 00</text>
<text class="ci" x="240" y="476">②</text><text class="tm" x="245" y="476" textLength="18" lengthAdjust="spacing">10 : 30</text>
<text class="ci" x="240" y="482.5">③</text><text class="tm" x="245" y="482.5" textLength="18" lengthAdjust="spacing">12 : 00</text>
<text class="ci" x="240" y="489">④</text><text class="tm" x="245" y="489" textLength="18" lengthAdjust="spacing">13 : 30</text>
<text class="ci" x="240" y="495.5">⑤</text><text class="tm" x="245" y="495.5" textLength="18" lengthAdjust="spacing">15 : 00</text>
<text class="ci" x="240" y="502">⑥</text><text class="tm" x="245" y="502" textLength="18" lengthAdjust="spacing">16 : 30</text>
<text class="c" x="208" y="519.5" font-size="6" textLength="25" lengthAdjust="spacingAndGlyphs">６月24日</text>
<text class="ci" x="220.5" y="527">①</text><text class="tm" x="242" y="527" textLength="21" lengthAdjust="spacing">9 : 3 0</text>
<text class="ci" x="220.5" y="533.5">②</text><text class="tm" x="230" y="533.5" textLength="33" lengthAdjust="spacing">1 1 : 0 0</text>
<text class="ci" x="220.5" y="540">③</text><text class="tm" x="230" y="540" textLength="33" lengthAdjust="spacing">1 2 : 3 0</text>
<text class="ci" x="220.5" y="546.5">④</text><text class="tm" x="230" y="546.5" textLength="33" lengthAdjust="spacing">1 4 : 0 0</text>
</g>
<g id="league-table">
<text class="c m" x="240" y="573.5" textLength="60" lengthAdjust="spacing">［決勝リーグ戦表］</text>
<path class="k" d="M233.3 577.7V647.7M246.7 577.7V647.7M259.3 577.7V647.7M189.3 605.7H290M189.3 619.7H290M189.3 633.7H290M220 591.7L272.7 647.7"/>
<path class="kb" d="M220 577.7V647.7M272.7 577.7V647.7M189.3 591.7H290"/>
<rect class="kb" x="189.3" y="577.7" width="100.7" height="70"/>
<g class="c" font-size="7.5">
<text class="m" x="226.7" y="587.5">Ⓐ</text><text class="m" x="240" y="587.5">Ⓑ</text><text class="m" x="253" y="587.5">Ⓒ</text><text class="m" x="266" y="587.5">Ⓓ</text>
</g>
<text class="c m" x="281.3" y="586.5" font-size="4.5">順位</text>
</g>
</svg>
